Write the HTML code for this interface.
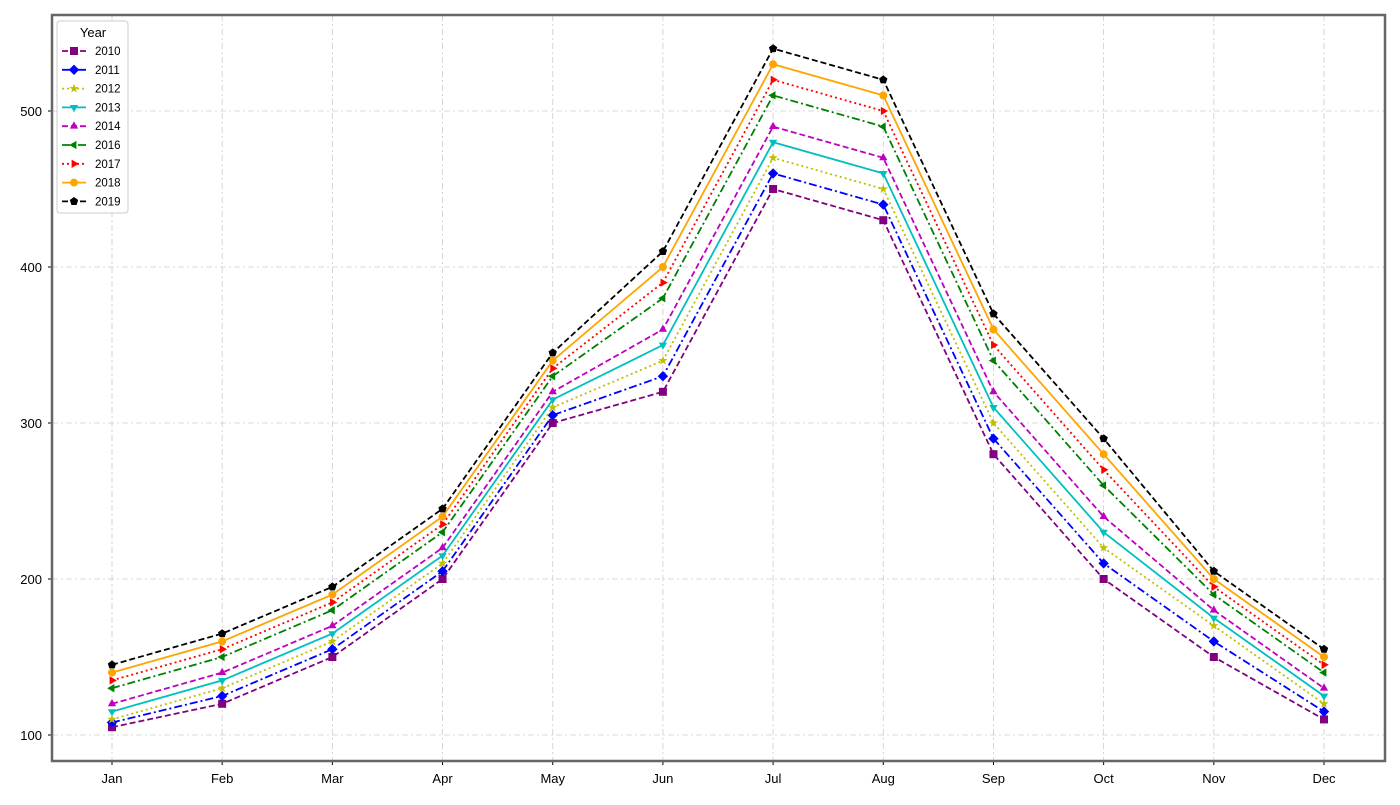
<!DOCTYPE html>
<html><head><meta charset="utf-8"><style>
body{margin:0;background:#fff;font-family:"Liberation Sans",sans-serif}
</style></head><body>
<svg id="c" width="1400" height="800" xmlns="http://www.w3.org/2000/svg"></svg>
<script>
const months=["Jan","Feb","Mar","Apr","May","Jun","Jul","Aug","Sep","Oct","Nov","Dec"];
const yTicks=[100,200,300,400,500];
const years=["2010","2011","2012","2013","2014","2016","2017","2018","2019"];
const s2010=[105,120,150,200,300,320,450,430,280,200,150,110];
const s2011=[108,125,155,205,305,330,460,440,290,210,160,115];
const s2012=[110,130,160,210,310,340,470,450,300,220,170,120];
const s2013=[115,135,165,215,315,350,480,460,310,230,175,125];
const s2014=[120,140,170,220,320,360,490,470,320,240,180,130];
const s2016=[130,150,180,230,330,380,510,490,340,260,190,140];
const s2017=[135,155,185,235,335,390,520,500,350,270,195,145];
const s2018=[140,160,190,240,340,400,530,510,360,280,200,150];
const s2019=[145,165,195,245,345,410,540,520,370,290,205,155];
const series=[s2010,s2011,s2012,s2013,s2014,s2016,s2017,s2018,s2019];
const colors=["#800080","#0000ff","#bfbf00","#00bfbf","#bf00bf","#008000","#ff0000","#ffa500","#000000"];
const dashes=["6,3","8,3,2,3","2,3","","6,3","8,3,2,3","2,3","","6,3"];
const markers=["s","D","*","v","^","<",">","o","p"];
const svg=document.getElementById('c');const NS="http://www.w3.org/2000/svg";
const L=52,R=1385,T=15,B=761;
const x=i=>112+i*(1324-112)/11;
const y=v=>735-(v-100)*1.56;
function mk(t,a,p){const e=document.createElementNS(NS,t);for(const k in a)e.setAttribute(k,a[k]);(p||svg).appendChild(e);return e;}
yTicks.forEach(v=>{const g=mk('line',{x1:L,x2:R,y1:y(v),y2:y(v),stroke:'#ccc','stroke-dasharray':'6,3,2,3','stroke-width':0.8});

const t=mk('text',{x:L-10,y:y(v)+5,'text-anchor':'end','font-size':13,fill:'#000'});t.textContent=v;

mk('line',{x1:L-4,x2:L,y1:y(v),y2:y(v),stroke:'#000'});});
months.forEach((m,i)=>{const g=mk('line',{x1:x(i),x2:x(i),y1:T,y2:B,stroke:'#ccc','stroke-dasharray':'6,3,2,3','stroke-width':0.8});

const t=mk('text',{x:x(i),y:B+22,'text-anchor':'middle','font-size':13,fill:'#000'});t.textContent=m;

mk('line',{x1:x(i),x2:x(i),y1:B,y2:B+4,stroke:'#000'});});
function marker(type,cx,cy,r,col,p){
 let pts;
 if(type==='s')return mk('rect',{x:cx-r,y:cy-r,width:2*r,height:2*r,fill:col},p);
 if(type==='o')return mk('circle',{cx,cy,r,fill:col},p);
 const poly=(n,rot,rr)=>{let a=[];for(let k=0;k<n;k++){const an=rot+k*2*Math.PI/n;a.push((cx+rr*Math.cos(an))+','+(cy+rr*Math.sin(an)));}return a.join(' ');};
 if(type==='D')pts=poly(4,-Math.PI/2,r*1.3);
 else if(type==='^')pts=poly(3,-Math.PI/2,r*1.2);
 else if(type==='v')pts=poly(3,Math.PI/2,r*1.2);
 else if(type==='<')pts=poly(3,Math.PI,r*1.2);
 else if(type==='>')pts=poly(3,0,r*1.2);
 else if(type==='p')pts=poly(5,-Math.PI/2,r*1.1);
 else if(type==='*'){let a=[];for(let k=0;k<10;k++){const an=-Math.PI/2+k*Math.PI/5;const rr=k%2?r*0.5:r*1.2;a.push((cx+rr*Math.cos(an))+','+(cy+rr*Math.sin(an)));}pts=a.join(' ');}
 return mk('polygon',{points:pts,fill:col},p);
}
series.forEach((s,si)=>{
 const g=mk('g',{});
 const l=mk('polyline',{points:s.map((v,i)=>x(i)+','+y(v)).join(' '),fill:'none',stroke:colors[si],'stroke-width':1.8,'stroke-dasharray':dashes[si]},g);
 
 s.forEach((v,i)=>{const m=marker(markers[si],x(i),y(v),4,colors[si],g);
 });
});
const f=mk('rect',{x:L,y:T,width:R-L,height:B-T,fill:'none',stroke:'#666','stroke-width':2.5});

const lg=mk('g',{});
mk('rect',{x:57,y:21,width:71,height:192,rx:3,fill:'#fff','fill-opacity':0.85,stroke:'#ccc'},lg);
const lt=mk('text',{x:93,y:37,'text-anchor':'middle','font-size':13},lg);lt.textContent='Year';
years.forEach((yr,i)=>{const cy=51+i*18.8;
 const e=mk('g',{},lg);
 mk('line',{x1:62,x2:86,y1:cy,y2:cy,stroke:colors[i],'stroke-width':1.8,'stroke-dasharray':dashes[i]},e);
 marker(markers[i],74,cy,4,colors[i],e);
 const t=mk('text',{x:95,y:cy+4,'font-size':11.5},e);t.textContent=yr;});
</script>
</body></html>
